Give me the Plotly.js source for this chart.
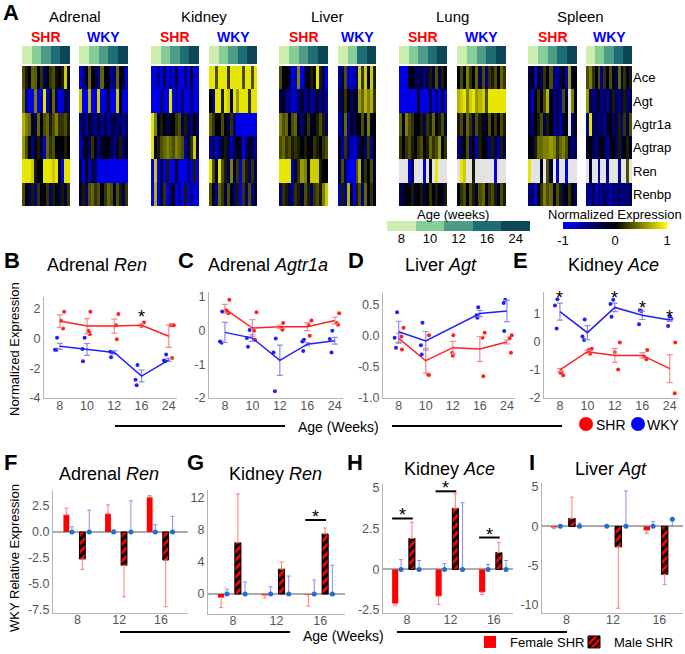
<!DOCTYPE html>
<html><head><meta charset="utf-8">
<script src="https://cdn.plot.ly/plotly-3.0.1.min.js"></script>
<style>html,body{margin:0;padding:0;background:#fff}#chart{width:685px;height:654px}</style>
</head><body><div id="chart"></div>
<script>
// ---------------- DATA ----------------
const genes = ['Ace','Agt','Agtr1a','Agtrap','Ren','Renbp'];
const ageLabels = ['8','10','12','16','24'];
const agesAll = ['8','10','12','16','24'];
const agesLiverWKY = ['8','10','16','24'];
const ageColors = ['#cdeeae','#86cd97','#4e9c87','#1e6d74','#0d4757'];
const tissues = ['Adrenal','Kidney','Liver','Lung','Spleen'];

// Heatmaps: rows = genes, values = normalized expression (-1..1), null = not detected
const adrenalSHR = [
 [0.3,0.1,-0.05,0.4,0.35,0,0.2,-0.4,-0.1,0.2,0.3,0.05,-0.1,0.1,0.8,0],
 [0.4,-0.5,-0.9,-0.9,0.5,-0.9,-0.8,0.9,-0.8,-0.1,0.4,-0.4,-0.9,-0.8,-0.2,-0.5],
 [0.7,0.5,0.4,-0.1,-0.3,0.4,0,0.3,0.4,0.1,0.3,0.5,0.2,0.2,0.3,0.1],
 [0.6,0.3,0,-0.6,-0.1,0.1,-0.2,-0.8,0.4,0.2,0.3,0,-0.1,0,0.1,0],
 [0.9,0.9,0.9,0.8,0.1,-0.1,0,0.9,0.9,0.9,0.8,0.9,0,-0.9,0.9,0.9],
 [0.3,0,-0.3,0.1,-0.5,0.2,-0.1,0,0.2,-0.4,0.1,0,-0.3,0.1,-0.2,0.2]];
const adrenalWKY = [
 [-0.8,-0.6,-0.1,0.4,0,-0.2,-0.5,0.4,0,-0.1,-0.6,-0.4,0.4,0,-0.2,-0.8],
 [0.8,-0.9,-0.9,0.7,-0.9,-0.9,0.8,-0.9,-0.8,-0.2,-0.9,-0.9,0.8,-0.1,-0.9,-0.9],
 [-0.5,-0.3,-0.6,-0.1,-0.4,-0.6,-0.2,-0.5,-0.3,-0.6,-0.4,-0.2,-0.5,-0.3,-0.6,-0.4],
 [-0.8,-0.3,-0.1,-0.4,0.2,0,-0.5,-0.2,0,-0.1,-0.3,-0.5,-0.2,0.1,-0.4,-0.2],
 [-0.3,-0.9,0,-0.8,-0.2,-0.4,-0.9,-0.9,-0.9,-0.9,-0.9,-0.9,-0.9,-0.9,-0.9,-0.9],
 [-0.2,0.1,-0.4,0.3,0.4,0.2,0.3,-0.1,0.2,0.4,0.3,-0.2,0.3,0.1,-0.3,0.2]];
const kidneySHR = [
 [-0.9,-0.9,-0.5,-0.9,-0.3,-0.9,-0.6,-0.9,-0.2,-0.9,-0.9,-0.4,-0.9,-0.2,-0.9,-0.9],
 [-0.9,-0.9,-0.9,-0.5,-0.9,-0.9,0.9,-0.9,-0.6,-0.9,-0.4,-0.9,-0.9,-0.5,-0.9,-0.9],
 [0.9,0.5,-0.2,0.1,0,-0.3,-0.1,0,0.2,0.3,-0.3,0.1,-0.3,-0.5,0,-0.4],
 [0.9,-0.2,0.1,0.3,0.4,0.5,0.4,0.3,0.5,0.4,0.3,-0.6,-0.2,0.2,0.8,-0.3],
 [-0.9,0.8,-0.9,-0.3,-0.9,0.1,-0.9,-0.9,-0.2,-0.9,-0.9,-0.9,-0.5,-0.9,0.1,-0.9],
 [-0.9,0.7,-0.9,-0.3,0.2,-0.9,-0.4,0,-0.9,-0.6,-0.9,0.1,-0.9,-0.5,-0.9,-0.9]];
const kidneyWKY = [
 [0.9,0.9,0.3,0.9,0.9,0.9,0.2,0.9,0.9,0.9,0.9,0.3,0.9,0.9,0.3,0.9],
 [0,-0.5,0.9,0.9,0.1,0.9,0.8,-0.3,0.9,0.6,0.9,0.9,0.9,0.2,0.9,0.9],
 [0.4,0.2,0,-0.1,0.3,0,-0.3,0.2,-0.5,-0.9,-0.9,-0.9,-0.9,-0.9,-0.9,-0.9],
 [-0.6,-0.3,-0.8,-0.4,-0.2,0.1,-0.3,-0.7,-0.4,0,-0.2,-0.9,-0.4,-0.1,-0.3,-0.6],
 [0.9,0.3,-0.2,0.9,0.3,0.1,-0.4,0.5,-0.2,0.2,-0.8,0.3,0.1,-0.4,0.2,-0.3],
 [0.3,0,-0.6,0.4,0.2,-0.3,0.3,0,-0.5,0.1,-0.9,0.2,-0.4,0.3,-0.5,-0.2]];
const liverSHR = [
 [0.3,0,0,-0.2,-0.9,-0.8,0.5,-0.9,-0.3,0,0.1,0,0.9,0.1,-0.3,-0.9],
 [-0.3,-0.1,-0.5,-0.5,-0.8,-0.8,-0.4,-0.2,-0.6,-0.3,-0.6,-0.4,-0.2,-0.5,-0.3,-0.6],
 [0.5,0.3,0.4,0,0.3,0.4,-0.2,-0.4,-0.1,0.2,-0.2,0,0.1,0.3,0.1,-0.4],
 [0.3,0.4,0.2,0.3,0.1,0.2,0.1,0,0.1,0,-0.1,0.2,0.1,0,0.2,0.3],
 [0.9,0.9,0.9,0.9,-0.7,-0.2,0.2,0.6,0.5,0,0.8,0.8,0.8,0.1,0,0],
 [-0.5,0.2,0.1,-0.3,-0.5,0.2,0.1,-0.2,0.3,0.1,-0.4,0.2,0.3,0.1,0.5,0.8]];
const liverWKY = [
 [-0.6,-0.3,0.3,-0.8,-0.8,-0.7,-0.4,0.8,0.2,0.8,-0.3,0.8,0.1],
 [-0.4,-0.2,0.2,0,-0.4,-0.1,-0.3,0.6,0.4,0.7,0.5,0.7,0.2],
 [-0.7,-0.3,0.4,-0.6,-0.1,-0.4,0,-0.1,0.3,-0.2,0.5,-0.1,0],
 [-0.2,-0.6,0.2,-0.5,-0.7,-0.8,-0.6,-0.3,0,-0.4,0.2,-0.6,0],
 [-0.3,0.3,-0.4,-0.9,-1,-0.9,0.3,0.7,-0.3,0.2,0,0.3,-0.2],
 [-0.7,0.1,-0.6,0.7,-0.2,-0.9,0.1,0.3,-0.5,0.4,0,0.2,-0.1]];
const lungSHR = [
 [-0.9,-0.9,-0.9,-0.1,0,-0.3,-0.4,-0.2,-0.5,-0.3,0.1,-0.2,0.3,-0.3,0.1,0],
 [-0.9,-0.9,-0.9,-0.9,-0.9,-0.9,-0.2,-0.9,-0.9,-0.9,-0.3,-0.9,-0.5,-0.9,-0.3,-0.9],
 [0.4,-0.2,0.5,0.3,0.2,-0.1,0,0.1,-0.3,0.2,0.1,0.4,-0.1,0.1,0.3,-0.2],
 [0.2,0,0.2,0.3,0.1,-0.1,0.2,0.3,0,0.1,0.4,0.2,0.3,0.6,0,0.2],
 [null,null,null,-0.9,-0.3,null,null,null,-0.8,null,-0.2,null,0.9,null,null,null],
 [-0.3,-0.2,0,-0.1,0.1,-0.2,0,0.1,-0.3,0,0.2,-0.1,0.1,0,-0.2,0.1]];
const lungWKY = [
 [0,0.3,-0.1,0.5,0.2,0,0.4,-0.3,0.3,-0.5,0.2,0.1,0.3,0,0.4,0.2],
 [0.7,0.8,0.9,0.5,0.8,0.9,0.6,0.7,0.8,0.3,0.9,0.9,0.9,0.9,0.9,0.9],
 [0.1,0.3,-0.2,0.4,0.2,-0.3,0.3,0.1,-0.2,0,0.3,-0.1,0.2,0,0.3,0.1],
 [-0.5,-0.3,0,0.3,-0.4,0,-0.7,0.1,0,-0.2,-0.5,0.1,-0.3,-0.6,0.1,-0.3],
 [null,0.9,0.8,null,null,0.1,null,null,null,null,null,null,-0.9,null,null,null],
 [-0.1,0.2,0.3,0,0.3,0.1,-0.2,0.3,0.4,0,0.2,0.3,0.1,-0.2,0.3,0.1]];
const spleenSHR = [
 [-0.3,0,-0.9,0,-0.4,0.2,0,0.3,-0.5,-0.6,-0.3,0,-0.7,0.6,-0.2,0],
 [-0.3,-0.8,0,0.2,-0.1,0.3,0.7,0,-0.5,-0.3,-0.6,0.3,-0.2,null,0.5,-0.1],
 [-0.2,-0.5,0,0.1,0.3,-0.3,0.1,0,-0.6,-0.3,-0.7,-0.2,0,null,-0.4,-0.1],
 [0,-0.2,0.1,0.4,0.4,0.5,0.5,0.6,0.5,0.2,0.4,0.5,0.3,-0.2,-0.5,-0.3],
 [0.9,null,null,null,-0.1,null,0.3,-0.2,null,-0.8,null,null,-0.9,null,null,null],
 [-0.5,-0.4,-0.9,0,0.2,0.5,0.3,0.4,-0.2,0.3,0.1,-0.3,0,0.2,-0.1,-0.3]];
const spleenWKY = [
 [0.3,0.5,0.2,-0.1,0.3,-0.6,0.2,0,0.3,-0.1,-0.3,0.4,0,0.2,-0.2,0.1],
 [0.6,-0.3,-0.5,-0.3,-0.2,-0.5,-0.3,-0.6,-0.2,0.1,-0.4,-0.5,-0.3,0.1,-0.4,-0.3],
 [-0.6,0.9,-0.4,-0.3,-0.5,-0.3,-0.6,-0.2,0,-0.4,-0.3,0.1,-0.5,0.2,-0.3,0.3],
 [-0.2,0,-0.3,-0.5,-0.1,0,-0.3,-0.6,-0.2,0,-0.4,0.1,-0.3,0,0.1,-0.2],
 [null,-0.2,null,null,-0.6,null,null,-0.5,null,null,null,-0.6,null,null,0.3,null],
 [-0.5,-0.6,-0.3,-0.7,-0.4,-0.6,-0.3,-0.5,-0.7,-0.4,-0.5,-0.3,-0.6,-0.4,-0.5,-0.3]];

// Line panels B-E: means, SEM, individual points (with horizontal jitter in age-slot units)
const bShrMean=[1.18,0.84,0.84,0.9,0.16], bShrErr=[0.42,0.5,0.47,0.1,0.75];
const bShrPts=[[1.8,0.68,1.2],[1.8,0.52,0.3,0.45],[1.66,0.9,-0.05],[1.09,0.84],[0.9,0.9,-1.3]];
const bShrJit=[[0.16,0.12,0.04],[0.12,0.04,0.1,0.07],[0.15,0.06,0.09],[0.09,0],[0.06,0.18,0.12]];
const bWkyMean=[-0.52,-0.73,-0.93,-2.52,-1.43], bWkyErr=[0.2,0.4,0.1,0.4,0.1];
const bWkyPts=[[-0.75,-0.75,0.05],[0.05,-1.52,-0.7],[-0.89,-1.25,-0.95],[-1.77,-2.77,-3.14],[-1.07,-1.52,-1.48]];
const bWkyJit=[[-0.18,-0.12,-0.1],[-0.09,-0.15,-0.17],[-0.15,-0.12,-0.06],[-0.15,-0.22,-0.18],[-0.1,-0.13,-0.18]];
const bStars=[null,null,null,1.8,null];

const cShrMean=[0.65,0.08,0.12,0.12,0.3], cShrErr=[0.13,0.25,0.05,0.12,0.1];
const cShrPts=[[0.92,0.55,0.52,0.6],[0.55,0,-0.27],[0.23,0.07,0.03],[0.3,-0.15,0.17],[0.52,0.23,0.18]];
const cShrJit=[[0.16,0.1,0.12,0.06],[0.15,0.06,0.1],[0.12,0.06,0.1],[0.15,0.09,0.04],[0.16,0.06,0.12]];
const cWkyMean=[-0.05,-0.22,-0.88,-0.4,-0.3], cWkyErr=[0.3,0.1,0.45,0.05,0.1];
const cWkyPts=[[0.57,-0.32,-0.36],[0.02,-0.48,-0.22],[-0.23,-0.65,-1.8],[-0.27,-0.6,-0.32],[0,-0.65,-0.25]];
const cWkyJit=[[-0.1,-0.18,-0.12],[-0.1,-0.16,-0.2],[-0.15,-0.23,-0.18],[-0.12,-0.15,-0.18],[-0.09,-0.12,-0.18]];
const cStars=[null,null,null,null,null];

const dShrMean=[-0.04,-0.4,-0.19,-0.21,-0.1], dShrErr=[0.08,0.2,0.1,0.2,0.03];
const dShrPts=[[0.13,-0.22,-0.01],[0.01,-0.62,-0.63],[0.01,-0.27,-0.32],[0.05,-0.03,-0.65],[0.01,-0.04,-0.27]];
const dShrJit=[[0.18,0.12,0.1],[0.12,0.09,0.12],[0.02,-0.02,0],[0.18,0.1,0.13],[0.18,0.1,0.15]];
const dWkyMean=[0.065,-0.08,null,0.36,0.4], dWkyErr=[0.17,0.15,null,0.05,0.17];
const dWkyPts=[[0.38,-0.03,-0.19],[0.21,-0.15,-0.3],[],[0.46,0.33,0.29],[0.58,0.53,0.08]];
const dWkyJit=[[-0.06,-0.15,-0.1],[-0.12,-0.18,-0.15],[],[-0.06,-0.12,-0.09],[-0.06,-0.12,-0.1]];
const dStars=[null,null,null,null,null];

const eShrMean=[-1.0,-0.35,-0.48,-0.48,-0.95], eShrErr=[0.05,0.05,0.25,0.1,0.5];
const eShrPts=[[-1.07,-1.19,-1.1],[-0.24,-0.42,-0.29],[-0.02,-0.98,-0.36],[-0.29,-0.62,-0.52],[-0.02,-1.83]];
const eShrJit=[[0.06,0.12,0.02],[0.16,0.1,0.04],[0.18,0.12,0],[0.18,0.15,0.06],[0.2,0.18]];
const eWkyMean=[1.08,0.33,1.23,0.95,0.78], eWkyErr=[0.3,0.25,0.15,0.15,0.05];
const eWkyPts=[[1.52,1.3,0.48],[0.8,0.19,0.07],[1.5,1.35,0.9],[1.13,1.1,0.63],[0.57,0.9,0.83]];
const eWkyJit=[[-0.09,-0.18,-0.12],[-0.1,-0.18,-0.12],[-0.06,-0.16,-0.12],[-0.09,-0.04,-0.12],[-0.06,0,0.06]];
const eStars=[1.74,null,1.74,1.38,1.05];

// Bar panels F-I: WKY-relative expression; *End = end of the error bar
const barAges = ['8','12','16'];
const fFem=[1.65,1.75,3.35], fFemEnd=[2.3,2.6,3.5];
const fMale=[-2.6,-3.2,-2.7], fMaleEnd=[-3.6,-6.25,-7.2];
const fWkyF=[0,0,0], fWkyFEnd=[0.5,0.2,0.7];
const fWkyM=[0,0,0], fWkyMEnd=[2.1,3.0,1.5];
const fSig=[null,null,null];

const gFem=[-0.45,-0.15,-0.1], gFemEnd=[-1.7,-0.5,-1.5];
const gMale=[6.4,3.1,7.5], gMaleEnd=[12.5,4.0,8.25];
const gWkyF=[0,0,0], gWkyFEnd=[0.6,0.9,1.75];
const gWkyM=[0,0,0], gWkyMEnd=[1.5,2.25,3.6];
const gSig=[null,null,9.25];

const hFem=[-2.1,-1.65,-1.4], hFemEnd=[-2.2,-2.15,-1.55];
const hMale=[1.9,3.75,1.04], hMaleEnd=[2.9,4.65,1.66];
const hWkyF=[0,0,0], hWkyFEnd=[0.6,0.35,0.3];
const hWkyM=[0,0,0], hWkyMEnd=[0.55,4.1,0.55];
const hSig=[3.13,4.8,1.96];

const iFem=[-0.15,0,-0.5], iFemEnd=[-0.3,0,-0.9];
const iMale=[1.0,-2.6,-6.1], iMaleEnd=[3.7,-10.4,-7.4];
const iWkyF=[0,0,0], iWkyFEnd=[0,0,0.6];
const iWkyM=[0,0,0.9], iWkyMEnd=[0.4,4.5,0];
const iSig=[null,null,null];

// ---------------- BUILD ----------------
const W=685, H=654;
const px = x => x/W, py = y => 1 - y/H;
const FONT = 'Arial, "Liberation Sans", Helvetica, sans-serif';
const legBase = {orientation:'h', yanchor:'top', xanchor:'left', y:py(627), font:{size:13, family:FONT},
  bgcolor:'rgba(0,0,0,0)', itemwidth:30, tracegroupgap:0, itemclick:false};
const layout = {width:W, height:H, margin:{l:0,r:0,t:0,b:0,autoexpand:false}, paper_bgcolor:'#fff', plot_bgcolor:'rgba(0,0,0,0)',
  font:{family:FONT, color:'#000'}, annotations:[], shapes:[], showlegend:true,
  legend:Object.assign({}, legBase, {x:px(470)}),
  legend2:Object.assign({}, legBase, {x:px(574)})};
const traces = [];
let axN = 0;
function newAxes(x0,x1,y0,y1,xo,yo){
  axN++; const s = axN===1?'':String(axN);
  layout['xaxis'+s] = Object.assign({domain:[px(x0),px(x1)], anchor:'y'+s, fixedrange:true}, xo||{});
  layout['yaxis'+s] = Object.assign({domain:[py(y1),py(y0)], anchor:'x'+s, fixedrange:true}, yo||{});
  return {x:'x'+s, y:'y'+s};
}
function ann(text,x,y,o){ layout.annotations.push(Object.assign({text:text, x:px(x), y:py(y), xref:'paper', yref:'paper', showarrow:false, xanchor:'center', yanchor:'middle', font:{size:14, family:FONT, color:'#000'}}, o||{})); }
const hidden = {visible:false};
const exprScale = [[0,'#0000ff'],[0.5,'#000000'],[1,'#ffff00']];
function stepScale(cols){ const s=[]; cols.forEach((c,i)=>{s.push([i/cols.length,c]); s.push([(i+1)/cols.length,c]);}); return s; }
const ageScale = stepScale(ageColors);

// ---- Panel A ----
ann('<b>A</b>', 11, 13, {font:{size:22, family:FONT}});
const hmSpecs = [
 {t:'Adrenal', s:'SHR', z:adrenalSHR, ages:agesAll, x0:22, x1:70},
 {t:'Adrenal', s:'WKY', z:adrenalWKY, ages:agesAll, x0:79, x1:128},
 {t:'Kidney',  s:'SHR', z:kidneySHR,  ages:agesAll, x0:151, x1:199},
 {t:'Kidney',  s:'WKY', z:kidneyWKY,  ages:agesAll, x0:209, x1:257},
 {t:'Liver',   s:'SHR', z:liverSHR,   ages:agesAll, x0:279, x1:328},
 {t:'Liver',   s:'WKY', z:liverWKY,   ages:agesLiverWKY, x0:338, x1:376},
 {t:'Lung',    s:'SHR', z:lungSHR,    ages:agesAll, x0:399, x1:447},
 {t:'Lung',    s:'WKY', z:lungWKY,    ages:agesAll, x0:457, x1:506},
 {t:'Spleen',  s:'SHR', z:spleenSHR,  ages:agesAll, x0:528, x1:577},
 {t:'Spleen',  s:'WKY', z:spleenWKY,  ages:agesAll, x0:586, x1:632}];
hmSpecs.forEach((sp, k) => {
  const last = (k === hmSpecs.length-1);
  const ax = newAxes(sp.x0, sp.x1, 66, 206, hidden,
    last ? {side:'right', showticklabels:true, ticks:'', showline:false, showgrid:false, zeroline:false,
            tickfont:{size:13, family:FONT, color:'#000'}, autorange:'reversed', type:'category'}
         : {visible:false, autorange:'reversed', type:'category'});
  const hasNull = sp.z.some(r => r.some(v => v === null));
  if (hasNull) layout.shapes.push({type:'rect', xref:ax.x+' domain', yref:ax.y+' domain', x0:0, x1:1, y0:0, y1:1,
     fillcolor:'#e3e3e3', line:{width:0}, layer:'below'});
  traces.push({type:'heatmap', z:sp.z, y:genes, colorscale:exprScale, zmin:-1, zmax:1, showscale:(k===0),
     hoverinfo:'skip', xaxis:ax.x, yaxis:ax.y, showlegend:false,
     colorbar:{orientation:'h', x:px(615), xanchor:'center', y:py(222), yanchor:'top', len:104, lenmode:'pixels',
       thickness:7, xpad:0, ypad:0, outlinewidth:0, tickvals:[-1,0,1], ticktext:['-1','0','1'], ticks:'',
       tickfont:{size:13, family:FONT, color:'#000'}}});
  const ab = newAxes(sp.x0, sp.x1, 46, 64, hidden, hidden);
  traces.push({type:'heatmap', z:[sp.ages.map(a => ageLabels.indexOf(a))], colorscale:ageScale, zmin:-0.5, zmax:ageLabels.length-0.5,
     showscale:false, hoverinfo:'skip', xaxis:ab.x, yaxis:ab.y, showlegend:false});
  ann('<b>'+sp.s+'</b>', (sp.x0+sp.x1)/2, 37, {font:{size:14, family:FONT, color: sp.s==='SHR' ? '#ff0000' : '#0000ff'}});
});
tissues.forEach(t => {
  const pair = hmSpecs.filter(s => s.t === t);
  ann(t, (pair[0].x0 + pair[1].x1)/2, 17, {font:{size:15, family:FONT}});
});
ann('Normalized Expression', 615, 214, {font:{size:13, family:FONT}});
// Age legend
{
  const ax = newAxes(387, 530, 221, 231,
     {type:'category', showline:false, ticks:'', showgrid:false, zeroline:false, ticklabelstandoff:-2, tickfont:{size:13, family:FONT, color:'#000'}},
     hidden);
  traces.push({type:'heatmap', z:[ageLabels.map((a,i)=>i)], x:ageLabels, colorscale:ageScale, zmin:-0.5, zmax:ageLabels.length-0.5,
    showscale:false, hoverinfo:'skip', xaxis:ax.x, yaxis:ax.y, showlegend:false});
  ann('Age (weeks)', 453, 214, {font:{size:13, family:FONT}});
}

// ---- Line panels B-E ----
const RED='#ff2020', REDL='#f58c8c', BLUE='#2020ff', BLUEL='#8c8cf5';
function linePanel(letter, title, lx, tx, x0,x1,y0,y1, yr, yt, fmt, S, Wk, stars){
  const ax = newAxes(x0,x1,y0,y1,
    {range:[-0.58,4.3], tickvals:ageLabels.map((a,i)=>i), ticktext:ageLabels, showline:true, linecolor:'#b5b5b5', linewidth:1,
     ticks:'', showgrid:false, zeroline:false, ticklabelstandoff:-4, tickfont:{size:12.5, family:FONT, color:'#555'}},
    {range:yr, tickvals:yt, ticktext:yt.map(v => fmt ? v.toFixed(1) : String(v)), showline:true, linecolor:'#b5b5b5', linewidth:1,
     ticks:'', showgrid:false, zeroline:false, tickfont:{size:12.5, family:FONT, color:'#555'}});
  [[S, RED, REDL],[Wk, BLUE, BLUEL]].forEach(([d, c, cl]) => {
    const xs=[], ys=[];
    d.pts.forEach((arr,i) => arr.forEach((v,j) => { xs.push(i + d.jit[i][j]); ys.push(v); }));
    traces.push({type:'scatter', mode:'markers', x:xs, y:ys, marker:{color:c, size:4}, xaxis:ax.x, yaxis:ax.y, showlegend:false, hoverinfo:'skip'});
    traces.push({type:'scatter', mode:'lines', x:ageLabels.map((a,i)=>i), y:d.mean, connectgaps:true, line:{color:c, width:1.5},
      error_y:{type:'data', array:d.err, color:cl, thickness:1.2, width:3}, xaxis:ax.x, yaxis:ax.y, showlegend:false, hoverinfo:'skip'});
  });
  stars.forEach((v,i) => { if (v !== null) layout.annotations.push({text:'*', x:i, y:v, xref:ax.x, yref:ax.y, showarrow:false,
     yshift:-5, font:{size:18, family:FONT, color:'#000'}}); });
  ann('<b>'+letter+'</b>', lx, 261, {font:{size:22, family:FONT}});
  ann(title, tx, 265, {font:{size:18, family:FONT}});
}
linePanel('B','Adrenal <i>Ren</i>', 12, 97, 44,177,297,398, [-4,2.8], [-4,-2,0,2], false,
  {mean:bShrMean, err:bShrErr, pts:bShrPts, jit:bShrJit}, {mean:bWkyMean, err:bWkyErr, pts:bWkyPts, jit:bWkyJit}, bStars);
linePanel('C','Adrenal <i>Agtr1a</i>', 186, 268, 209,343,292,398, [-2,1.15], [-2,-1,0,1], false,
  {mean:cShrMean, err:cShrErr, pts:cShrPts, jit:cShrJit}, {mean:cWkyMean, err:cWkyErr, pts:cWkyPts, jit:cWkyJit}, cStars);
linePanel('D','Liver <i>Agt</i>', 356, 441, 383,515,293,398, [-1,0.69], [-1,-0.5,0,0.5], true,
  {mean:dShrMean, err:dShrErr, pts:dShrPts, jit:dShrJit}, {mean:dWkyMean, err:dWkyErr, pts:dWkyPts, jit:dWkyJit}, dStars);
linePanel('E','Kidney <i>Ace</i>', 520, 613, 544,678,292,398, [-2,1.78], [-2,-1,0,1], false,
  {mean:eShrMean, err:eShrErr, pts:eShrPts, jit:eShrJit}, {mean:eWkyMean, err:eWkyErr, pts:eWkyPts, jit:eWkyJit}, eStars);
ann('Normalized Expression', 14, 349, {textangle:-90, font:{size:13, family:FONT}});
layout.shapes.push({type:'line', xref:'paper', yref:'paper', x0:px(115), x1:px(285), y0:py(426), y1:py(426), line:{color:'#000', width:2}});
layout.shapes.push({type:'line', xref:'paper', yref:'paper', x0:px(392), x1:px(562), y0:py(426), y1:py(426), line:{color:'#000', width:2}});
ann('Age (Weeks)', 338, 427, {font:{size:14, family:FONT}});
layout.shapes.push({type:'circle', xref:'paper', yref:'paper', x0:px(579), x1:px(593), y0:py(431), y1:py(417), fillcolor:'#ff0000', line:{width:0}});
layout.shapes.push({type:'circle', xref:'paper', yref:'paper', x0:px(631), x1:px(645), y0:py(431), y1:py(417), fillcolor:'#0000ff', line:{width:0}});
ann('SHR', 594, 425, {xanchor:'left', font:{size:14, family:FONT}});
ann('WKY', 645, 425, {xanchor:'left', font:{size:14, family:FONT}});

// ---- Bar panels F-I ----
const OFF = [-0.27, -0.135, 0.115, 0.28], BW = 0.14;
function errParts(vals, ends){ return {plus: vals.map((v,i)=>Math.max(ends[i]-v,0)), minus: vals.map((v,i)=>Math.max(v-ends[i],0))}; }
let legendDone = false;
function barPanel(letter, title, lx, ly, tx, ty, x0,x1,y0,y1, xr, yr, yt, fmt, d){
  const ax = newAxes(x0,x1,y0,y1,
    {range:xr, tickvals:barAges.map((a,i)=>i), ticktext:barAges, showline:true, linecolor:'#b5b5b5', linewidth:1, ticks:'', showgrid:false,
     zeroline:false, ticklabelstandoff:-5, tickfont:{size:12.5, family:FONT, color:'#555'}},
    {range:yr, tickvals:yt, ticktext:yt.map(v => fmt ? v.toFixed(1) : String(v)), showline:true, linecolor:'#b5b5b5', linewidth:1, ticks:'',
     showgrid:false, zeroline:true, zerolinecolor:'#ababab', zerolinewidth:2, tickfont:{size:12.5, family:FONT, color:'#555'}});
  const gx = k => barAges.map((a,i)=> i + OFF[k]);
  const ef = errParts(d.fem, d.femEnd), em = errParts(d.male, d.maleEnd);
  const ewf = errParts(d.wf, d.wfEnd), ewm = errParts(d.wm, d.wmEnd);
  traces.push({type:'bar', name:'Female SHR', x:gx(0), y:d.fem, width:BW, marker:{color:'#ff0000', line:{width:0}},
    error_y:{type:'data', symmetric:false, array:ef.plus, arrayminus:ef.minus, color:'#ff7c7c', thickness:1, width:2},
    xaxis:ax.x, yaxis:ax.y, showlegend:!legendDone, legend:'legend', hoverinfo:'skip'});
  traces.push({type:'bar', name:'Male SHR', x:gx(2), y:d.male, width:BW,
    marker:{color:'#ff0000', line:{color:'#000', width:1}, pattern:{shape:'/', fgcolor:'#000', bgcolor:'#ff0000', solidity:0.5, size:6}},
    error_y:{type:'data', symmetric:false, array:em.plus, arrayminus:em.minus, color:'#ff7c7c', thickness:1, width:2},
    xaxis:ax.x, yaxis:ax.y, showlegend:!legendDone, legend:'legend2', hoverinfo:'skip'});
  legendDone = true;
  [[gx(1), d.wf, ewf],[gx(3), d.wm, ewm]].forEach(([xs, ys, e]) => {
    traces.push({type:'scatter', mode:'markers', x:xs, y:ys, marker:{color:'#1c6fd8', size:5},
      error_y:{type:'data', symmetric:false, array:e.plus, arrayminus:e.minus, color:'#8a8cf7', thickness:1, width:2},
      xaxis:ax.x, yaxis:ax.y, showlegend:false, hoverinfo:'skip'});
  });
  d.sig.forEach((v,i) => { if (v !== null) {
    layout.shapes.push({type:'line', xref:ax.x, yref:ax.y, x0:i+OFF[0]-BW/2, x1:i+OFF[2]+0.02, y0:v, y1:v, line:{color:'#000', width:2}});
    layout.annotations.push({text:'*', x:i+(OFF[0]+OFF[2])/2-0.03, y:v, xref:ax.x, yref:ax.y, showarrow:false, yanchor:'bottom', yshift:-9,
      font:{size:18, family:FONT, color:'#000'}});
  }});
  ann('<b>'+letter+'</b>', lx, ly, {font:{size:22, family:FONT}});
  ann(title, tx, ty, {font:{size:18, family:FONT}});
}
barPanel('F','Adrenal <i>Ren</i>', 10, 462, 109, 474, 53,188,490,613, [-0.59,2.65], [-7.8,4.04], [-7.5,-5,-2.5,0,2.5], true,
  {fem:fFem, femEnd:fFemEnd, male:fMale, maleEnd:fMaleEnd, wf:fWkyF, wfEnd:fWkyFEnd, wm:fWkyM, wmEnd:fWkyMEnd, sig:fSig});
barPanel('G','Kidney <i>Ren</i>', 196, 462, 275, 474, 208,345,490,614, [-0.57,2.57], [-2.5,13], [0,4,8,12], false,
  {fem:gFem, femEnd:gFemEnd, male:gMale, maleEnd:gMaleEnd, wf:gWkyF, wfEnd:gWkyFEnd, wm:gWkyM, wmEnd:gWkyMEnd, sig:gSig});
barPanel('H','Kidney <i>Ace</i>', 355, 462, 449, 469, 383,513,484,613, [-0.55,2.44], [-2.68,5.25], [-2.5,0,2.5,5], false,
  {fem:hFem, femEnd:hFemEnd, male:hMale, maleEnd:hMaleEnd, wf:hWkyF, wfEnd:hWkyFEnd, wm:hWkyM, wmEnd:hWkyMEnd, sig:hSig});
barPanel('I','Liver <i>Agt</i>', 532, 462, 611, 469, 542,683,483,613, [-0.53,2.51], [-11,5.5], [-10,-5,0,5], false,
  {fem:iFem, femEnd:iFemEnd, male:iMale, maleEnd:iMaleEnd, wf:iWkyF, wfEnd:iWkyFEnd, wm:iWkyM, wmEnd:iWkyMEnd, sig:iSig});
layout.barmode = 'overlay';
ann('WKY Relative Expression', 14, 558, {textangle:-90, font:{size:13, family:FONT}});
layout.shapes.push({type:'line', xref:'paper', yref:'paper', x0:px(120), x1:px(290), y0:py(632), y1:py(632), line:{color:'#000', width:2}});
layout.shapes.push({type:'line', xref:'paper', yref:'paper', x0:px(397), x1:px(567), y0:py(632), y1:py(632), line:{color:'#000', width:2}});
ann('Age (Weeks)', 343, 636, {font:{size:14, family:FONT}});

Plotly.newPlot('chart', traces, layout, {displayModeBar:false, staticPlot:true});
</script></body></html>
